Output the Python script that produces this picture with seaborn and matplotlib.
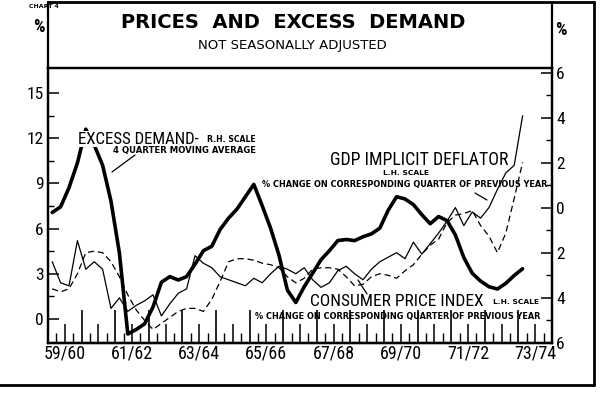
import numpy as np
import pandas as pd
import matplotlib
matplotlib.use('Agg')
import matplotlib.pyplot as plt
import seaborn as sns
from matplotlib.lines import Line2D

# quarterly values, 59/60 Q1 onwards
gdp_deflator = [3.8, 2.4, 2.2, 5.2, 3.3, 3.8, 3.3, 0.7, 1.4, 0.5, 0.9, 1.2, 1.6, 0.2, 1.0, 1.7,
                2.0, 4.2, 3.7, 3.4, 2.8, 2.6, 2.4, 2.2, 2.7, 2.4, 3.0, 3.5, 3.3, 3.0, 3.4, 2.6,
                2.1, 2.4, 3.2, 3.5, 3.0, 2.6, 3.3, 3.8, 4.1, 4.4, 4.0, 5.1, 4.3, 5.0, 5.7, 6.5,
                7.4, 6.2, 7.1, 6.7, 7.4, 8.6, 9.7, 10.2, 13.5]
cpi = [2.0, 1.8, 2.0, 3.0, 4.4, 4.5, 4.4, 3.8, 2.8, 1.6, 0.6, -0.1, -0.7, -0.3, 0.1, 0.5,
       0.7, 0.7, 0.5, 1.3, 2.5, 3.8, 4.0, 4.0, 3.9, 3.7, 3.6, 3.4, 2.8, 2.4, 2.7, 3.3,
       3.4, 3.4, 3.3, 2.8, 2.2, 2.3, 2.8, 3.0, 2.9, 2.7, 3.2, 3.6, 4.3, 4.9, 5.3, 6.4,
       6.9, 7.0, 7.2, 6.2, 5.5, 4.4, 5.7, 8.0, 10.4]
excess_demand = [-0.2, 0.05, 0.9, 2.0, 3.5, 2.8, 1.9, 0.3, -2.0, -5.6, -5.4, -5.15, -4.4, -3.3, -3.05, -3.2,
                 -3.05, -2.5, -1.9, -1.7, -0.95, -0.45, -0.05, 0.5, 1.05, 0.1, -0.9, -2.1, -3.65, -4.2, -3.5, -2.9,
                 -2.3, -1.9, -1.45, -1.4, -1.45, -1.28, -1.15, -0.9, -0.1, 0.5, 0.4, 0.15, -0.3, -0.7, -0.38, -0.56,
                 -1.2, -2.2, -2.9, -3.25, -3.5, -3.6, -3.35, -3.0, -2.7]

year_labels = ['59/60', '61/62', '63/64', '65/66', '67/68', '69/70', '71/72', '73/74']
left_ticks = [0, 3, 6, 9, 12, 15]
right_ticks = [-6, -4, -2, 0, 2, 4, 6]
right_labels = ['6', '4', '2', '0', '2', '4', '6']
n_quarters = 60

sns.set_style('ticks', {'axes.edgecolor': 'black', 'xtick.color': 'black', 'ytick.color': 'black',
                        'text.color': 'black', 'axes.labelcolor': 'black'})
plt.rcParams['font.family'] = ['Roboto Condensed', 'Liberation Sans Narrow', 'Liberation Sans', 'DejaVu Sans']
small = dict(weight='bold', family='DejaVu Sans', va='center')

W, H = 600, 393
def fx(x):
    return x / W
def fy(y):
    return 1 - y / H

fig = plt.figure(figsize=(6, 3.93), dpi=100)
ax = fig.add_axes([fx(48), fy(343), (552 - 48) / W, (343 - 68) / H])
ax2 = ax.twinx()

df = pd.DataFrame({'q': np.arange(len(gdp_deflator)), 'gdp': gdp_deflator,
                   'cpi': cpi, 'xd': excess_demand})

sns.lineplot(data=df, x='q', y='gdp', ax=ax, color='black', lw=0.9)
sns.lineplot(data=df, x='q', y='cpi', ax=ax, color='black', lw=0.9, linestyle=(0, (5, 3)))
sns.lineplot(data=df, x='q', y='xd', ax=ax2, color='black', lw=2.6)

ax.set_xlim(-0.5, n_quarters - 0.5)
ax.set_ylim(-1.6, 16.67)
ax2.set_ylim(-6, 6.22)
for a in (ax, ax2):
    a.set_xlabel('')
    a.set_ylabel('')
    for s in a.spines.values():
        s.set_linewidth(1.6)

# x ticks: long at years, medium at half years, short at quarters
ax.set_xticks(np.arange(-0.5, n_quarters, 4))
ax.set_xticks([q for q in np.arange(-0.5, n_quarters, 1) if (q + 0.5) % 2 == 1], minor=True)
ax.tick_params(axis='x', which='major', direction='in', length=24, width=1.2, labelbottom=False)
ax.tick_params(axis='x', which='minor', direction='in', length=7, width=1.0)
sec = ax.secondary_xaxis('bottom')
mids = np.arange(1.5, n_quarters, 4)
labs = [year_labels[k // 2] if k % 2 == 0 else '' for k in range(len(mids))]
sec.set_xticks(mids, labels=labs)
sec.tick_params(direction='in', length=14, width=1.1, labelsize=13, pad=1)
sec.spines['bottom'].set_linewidth(1.6)

ax.set_yticks(left_ticks)
ax.set_yticks(np.arange(1.5, 15, 3), minor=True)
ax.tick_params(axis='y', which='major', direction='in', length=8, width=1.1, labelsize=12.5, pad=3)
ax.tick_params(axis='y', which='minor', direction='in', length=4, width=1.0)

ax2.set_yticks(right_ticks, labels=right_labels)
ax2.set_yticks(np.arange(-5, 6, 2), minor=True)
ax2.tick_params(axis='y', which='major', direction='in', length=8, width=1.1, labelsize=12.5, pad=3)
ax2.tick_params(axis='y', which='minor', direction='in', length=4, width=1.0)

# frame and title box
frame = [((48, 48), (68, 2), 1.6), ((552, 552), (68, 2), 1.6), ((48, 594), (2, 2), 2),
         ((594, 594), (2, 385), 2), ((0, 594), (385, 385), 2)]
for xs, ys, lw in frame:
    fig.add_artist(Line2D([fx(v) for v in xs], [fy(v) for v in ys], color='black', lw=lw))

fig.text(fx(44), fy(7), 'CHART 4', fontsize=4.5, ha='center', **small)
fig.text(fx(39), fy(27), '%', fontsize=13, weight='bold', ha='center', va='center')
fig.text(fx(561), fy(30), '%', fontsize=13, weight='bold', ha='center', va='center')
fig.text(fx(293), fy(22), 'PRICES  AND  EXCESS  DEMAND', fontsize=14, weight='bold',
         ha='center', va='center', family='DejaVu Sans')
fig.text(fx(292), fy(46), 'NOT SEASONALLY ADJUSTED', fontsize=9.5, ha='center', va='center',
         family='DejaVu Sans')

fig.text(fx(78), fy(139), 'EXCESS DEMAND-', fontsize=12.2, ha='left', va='center',
         bbox=dict(facecolor='white', edgecolor='none', pad=0.5))
fig.text(fx(207), fy(139), 'R.H. SCALE', fontsize=5.6, ha='left', **small)
fig.text(fx(113), fy(150), '4 QUARTER MOVING AVERAGE', fontsize=6.1, ha='left', **small)
fig.text(fx(330), fy(160), 'GDP IMPLICIT DEFLATOR', fontsize=12.8, ha='left', va='center')
fig.text(fx(406), fy(173), 'L.H. SCALE', fontsize=5.4, ha='center', **small)
fig.text(fx(262), fy(184), '% CHANGE ON CORRESPONDING QUARTER OF PREVIOUS YEAR', fontsize=5.9,
         ha='left', **small)
fig.text(fx(310), fy(301), 'CONSUMER PRICE INDEX', fontsize=12.5, ha='left', va='center')
fig.text(fx(493), fy(302), 'L.H. SCALE', fontsize=5.4, ha='left', **small)
fig.text(fx(255), fy(317), '% CHANGE ON CORRESPONDING QUARTER OF PREVIOUS YEAR', fontsize=5.9,
         ha='left', **small)

for xs, ys in [((135, 112), (155, 172)), ((475, 487), (193, 200)), ((358, 367), (280, 294))]:
    fig.add_artist(Line2D([fx(v) for v in xs], [fy(v) for v in ys], color='black', lw=0.9))

fig.savefig('out.png', dpi=100)
